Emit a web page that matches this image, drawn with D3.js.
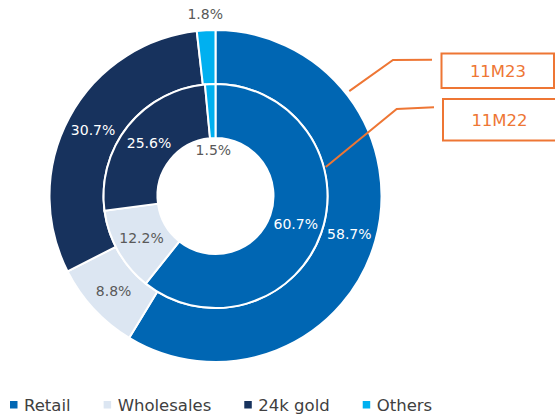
<!DOCTYPE html>
<html>
<head>
<meta charset="utf-8">
<script src="https://cdn.jsdelivr.net/npm/d3@7"></script>
<style>
  body { margin: 0; background: #fff; }
  text { font-family: "DejaVu Sans", Verdana, sans-serif; }
</style>
</head>
<body>
<div id="chart"></div>
<script>
// Data

var categories = ["Retail", "Wholesales", "24k gold", "Others"];
var colors = ["#0066b3", "#dce6f2", "#17325d", "#00b0f0"];
var labelColors = ["#fff", "#595959", "#fff", "#595959"];
var values11M23 = [58.7, 8.8, 30.7, 1.8];
var values11M22 = [60.7, 12.2, 25.6, 1.5];
var periods = ["11M23", "11M22"];

// Layout

var width = 555,
    height = 420,
    cx = 215.5,
    cy = 196;

var rOuter = 166,
    rMid = 112,
    rHole = 58;

var orange = "#ee7634";

var svg = d3.select("#chart").append("svg")
    .attr("width", width)
    .attr("height", height);

var g = svg.append("g")
    .attr("transform", "translate(" + cx + "," + cy + ")");

var pie = d3.pie()
    .sort(null)
    .value(function(d) { return d; });

var rings = [
  {values: values11M23, inner: rMid, outer: rOuter, othersR: 182},
  {values: values11M22, inner: rHole, outer: rMid, othersR: 46}
];

rings.forEach(function(ring) {
  var arc = d3.arc()
      .innerRadius(ring.inner)
      .outerRadius(ring.outer);

  var arcs = pie(ring.values);

  g.append("g").selectAll("path")
      .data(arcs)
    .enter().append("path")
      .attr("d", arc)
      .attr("fill", function(d, i) { return colors[i]; })
      .attr("stroke", "#fff")
      .attr("stroke-width", 2);

  var mid = (ring.inner + ring.outer) / 2;
  var labelArc = d3.arc().innerRadius(mid).outerRadius(mid);
  var othersArc = d3.arc().innerRadius(ring.othersR).outerRadius(ring.othersR);

  g.append("g").selectAll("text")
      .data(arcs)
    .enter().append("text")
      .attr("transform", function(d, i) {
        var c = (i === 3 ? othersArc : labelArc).centroid(d);
        return "translate(" + c[0] + "," + c[1] + ")";
      })
      .attr("text-anchor", "middle")
      .attr("dy", "0.36em")
      .attr("font-size", 14)
      .attr("fill", function(d, i) { return labelColors[i]; })
      .text(function(d) { return d.data.toFixed(1) + "%"; });
});

// Callouts

var callouts = [
  {label: periods[0], angle: 51.9, r: rOuter + 4, kink: [393, 60], end: [432, 59.7], box: [441.5, 53.5, 112.5, 34.5]},
  {label: periods[1], angle: 75.3, r: rMid + 2, kink: [396.7, 109], end: [434, 107.3], box: [443, 99, 120, 41.5]}
];

callouts.forEach(function(c) {
  var a = c.angle * Math.PI / 180;
  var start = [cx + c.r * Math.sin(a), cy - c.r * Math.cos(a)];

  svg.append("polyline")
      .attr("points", [start, c.kink, c.end].map(function(p) { return p.join(","); }).join(" "))
      .attr("fill", "none")
      .attr("stroke", orange)
      .attr("stroke-width", 2);

  svg.append("rect")
      .attr("x", c.box[0])
      .attr("y", c.box[1])
      .attr("width", c.box[2])
      .attr("height", c.box[3])
      .attr("fill", "#fff")
      .attr("stroke", orange)
      .attr("stroke-width", 2);

  svg.append("text")
      .attr("x", c.box[0] + 56.5)
      .attr("y", c.box[1] + c.box[3] / 2)
      .attr("dy", "0.36em")
      .attr("text-anchor", "middle")
      .attr("font-size", 16.5)
      .attr("fill", orange)
      .text(c.label);
});

// Legend

var legend = svg.append("g")
    .attr("transform", "translate(10,405)");

var lx = 0;
categories.forEach(function(name, i) {
  legend.append("rect")
      .attr("x", lx)
      .attr("y", -4)
      .attr("width", 7.5)
      .attr("height", 7.5)
      .attr("fill", colors[i]);

  var t = legend.append("text")
      .attr("x", lx + 14)
      .attr("y", 0)
      .attr("dy", "0.36em")
      .attr("font-size", 16.5)
      .attr("fill", "#404040")
      .text(name);

  lx += 14 + t.node().getComputedTextLength() + 33;
});
</script>
</body>
</html>
